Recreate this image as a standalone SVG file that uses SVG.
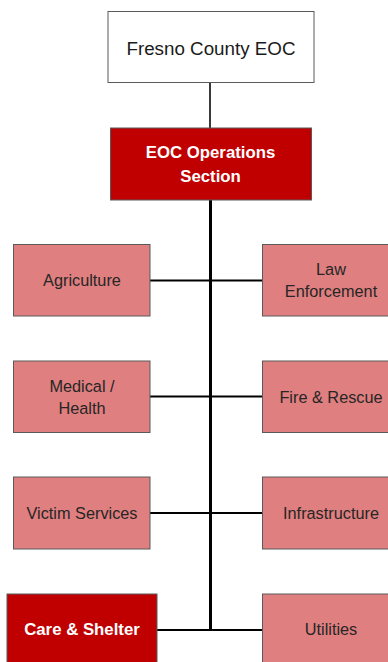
<svg xmlns="http://www.w3.org/2000/svg" width="388" height="662" viewBox="0 0 388 662">
  <style>
    .box { fill: #E07F7F; stroke: #5A5A5A; stroke-width: 1; }
    .hot { fill: #C00000; stroke: #5A5A5A; stroke-width: 1; }
    .top { fill: #FFFFFF; stroke: #5A5A5A; stroke-width: 1; }
    .lbl { font-family: "Liberation Sans", Arial, sans-serif; font-size: 16.3px; fill: #262626; text-anchor: middle; }
    .hdr { font-family: "Liberation Sans", Arial, sans-serif; font-size: 18.8px; fill: #1A1A1A; text-anchor: middle; }
    .wht { font-family: "Liberation Sans", Arial, sans-serif; font-size: 16.8px; font-weight: bold; fill: #FFFFFF; text-anchor: middle; }
    .ln { stroke: #000000; fill: none; }
  </style>

  <g id="connectors">
    <line class="ln" x1="210" y1="82" x2="210" y2="128" stroke-width="2" style="stroke:#3A3A3A"/>
    <line class="ln" x1="210.5" y1="200" x2="210.5" y2="631" stroke-width="3"/>
    <line class="ln" x1="150" y1="280.5" x2="262" y2="280.5" stroke-width="2"/>
    <line class="ln" x1="150" y1="396.5" x2="262" y2="396.5" stroke-width="2"/>
    <line class="ln" x1="150" y1="513" x2="262" y2="513" stroke-width="2"/>
    <line class="ln" x1="157" y1="630" x2="262" y2="630" stroke-width="2"/>
  </g>

  <g id="fresno-county-eoc">
    <rect class="top" x="108" y="11.5" width="206" height="71"/>
    <text class="hdr" x="211" y="54.5">Fresno County EOC</text>
  </g>

  <g id="eoc-operations-section">
    <rect class="hot" x="110.5" y="128" width="201" height="72"/>
    <text class="wht" x="210.5" y="158">EOC Operations</text>
    <text class="wht" x="210.5" y="182">Section</text>
  </g>

  <g id="agriculture">
    <rect class="box" x="13.5" y="244.5" width="136.5" height="71.5"/>
    <text class="lbl" x="82" y="285.5">Agriculture</text>
  </g>

  <g id="law-enforcement">
    <rect class="box" x="262.5" y="244.5" width="137" height="71.5"/>
    <text class="lbl" x="331" y="274.5">Law</text>
    <text class="lbl" x="331" y="296.5">Enforcement</text>
  </g>

  <g id="medical-health">
    <rect class="box" x="13.5" y="361" width="136.5" height="71.5"/>
    <text class="lbl" x="82" y="392">Medical /</text>
    <text class="lbl" x="82" y="413.5">Health</text>
  </g>

  <g id="fire-rescue">
    <rect class="box" x="262.5" y="361" width="137" height="71.5"/>
    <text class="lbl" x="331" y="402.5">Fire &amp; Rescue</text>
  </g>

  <g id="victim-services">
    <rect class="box" x="13.5" y="477" width="136.5" height="72"/>
    <text class="lbl" x="82" y="518.5">Victim Services</text>
  </g>

  <g id="infrastructure">
    <rect class="box" x="262.5" y="477" width="137" height="72"/>
    <text class="lbl" x="331" y="518.5">Infrastructure</text>
  </g>

  <g id="care-shelter">
    <rect class="hot" x="7" y="594" width="150" height="80"/>
    <text class="wht" x="82" y="634.5">Care &amp; Shelter</text>
  </g>

  <g id="utilities">
    <rect class="box" x="262.5" y="594" width="137" height="80"/>
    <text class="lbl" x="331" y="634.5">Utilities</text>
  </g>
</svg>
